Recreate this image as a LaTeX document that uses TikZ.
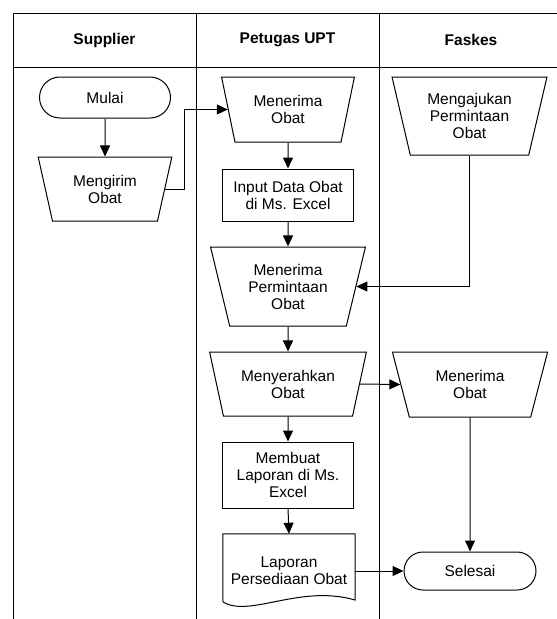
\documentclass[tikz,border=0pt]{standalone}
\usepackage{fontspec}
\setmainfont{Liberation Sans}
\usetikzlibrary{shapes.geometric,shapes.misc,arrows.meta}
\begin{document}
\begin{tikzpicture}[x=1pt,y=-1pt,
  every node/.style={font=\fontsize{15.5}{17}\selectfont, align=center, inner sep=0pt},
  line/.style={line width=1pt},
  arr/.style={line width=1pt, -{Triangle[length=11pt,width=10pt]}},
  term/.style={rounded rectangle, draw, line width=1pt},
  proc/.style={rectangle, draw, line width=1pt},
  manual/.style={trapezium, shape border rotate=180, trapezium stretches=true, draw, line width=1pt},
  hdr/.style={font=\bfseries\fontsize{15.5}{17}\selectfont}
]
\useasboundingbox (0,0) rectangle (557,619);
% frame
\draw[line] (13,619) -- (13,13) -- (557,13);
\draw[line] (13,67) -- (557,67);
\draw[line] (196,13) -- (196,619);
\draw[line] (379,13) -- (379,619);
\node[hdr] (hs) at (104.5,40) {Supplier};
\node[hdr] (hp) at (287.5,40) {Petugas UPT};
\node[hdr] (hf) at (471,40) {Faskes};

% nodes
\node[term, minimum width=131pt, minimum height=41pt] (mulai) at (105,97.5) {Mulai};
\node[manual, minimum width=134pt, minimum height=64pt, trapezium left angle=73, trapezium right angle=73] (kirim) at (105,189) {Mengirim\\Obat};
\node[manual, minimum width=134pt, minimum height=65pt, trapezium left angle=73, trapezium right angle=73] (terima) at (288,109.5) {Menerima\\Obat};
\node[proc, minimum width=131pt, minimum height=52pt] (input) at (288,195) {Input Data Obat\\di Ms. Excel};
\node[manual, minimum width=155pt, minimum height=78pt, trapezium left angle=74, trapezium right angle=74] (aju) at (469.5,116) {Mengajukan\\Permintaan\\Obat};
\node[manual, minimum width=155pt, minimum height=79pt, trapezium left angle=74, trapezium right angle=74] (minta) at (288,286.5) {Menerima\\Permintaan\\Obat};
\node[manual, minimum width=157pt, minimum height=64pt, trapezium left angle=70.5, trapezium right angle=70.5] (serah) at (288,384) {Menyerahkan\\Obat};
\node[manual, minimum width=156pt, minimum height=65pt, trapezium left angle=71.3, trapezium right angle=71.3] (terimaF) at (470,384.5) {Menerima\\Obat};
\node[proc, minimum width=131pt, minimum height=66pt] (buat) at (288,475) {Membuat\\Laporan di Ms.\\Excel};
\node[minimum width=132pt, minimum height=74pt] (lap) at (289,571) {Laporan\\Persediaan Obat};
\draw[line] (lap.north west) -- (lap.north east) -- (355,600)
  .. controls (300,584) and (250,618) .. (223,602) -- cycle;
\node[term, minimum width=132pt, minimum height=38pt] (selesai) at (470,571) {Selesai};

% connectors
\draw[arr] (mulai.south) -- (kirim.north);
\draw[arr] (kirim.east) -- ++(19,0) |- (terima.west);
\draw[arr] (terima.south) -- (input.north);
\draw[arr] (input.south) -- (minta.north);
\draw[arr] (aju.south) |- (minta.east);
\draw[arr] (minta.south) -- (serah.north);
\draw[arr] (serah.east) -- (terimaF.west);
\draw[arr] (serah.south) -- (buat.north);
\draw[arr] (buat.south) -- (lap.north);
\draw[arr] (terimaF.south) -- (selesai.north);
\draw[arr] (lap.east) -- (selesai.west);
\end{tikzpicture}
\end{document}
